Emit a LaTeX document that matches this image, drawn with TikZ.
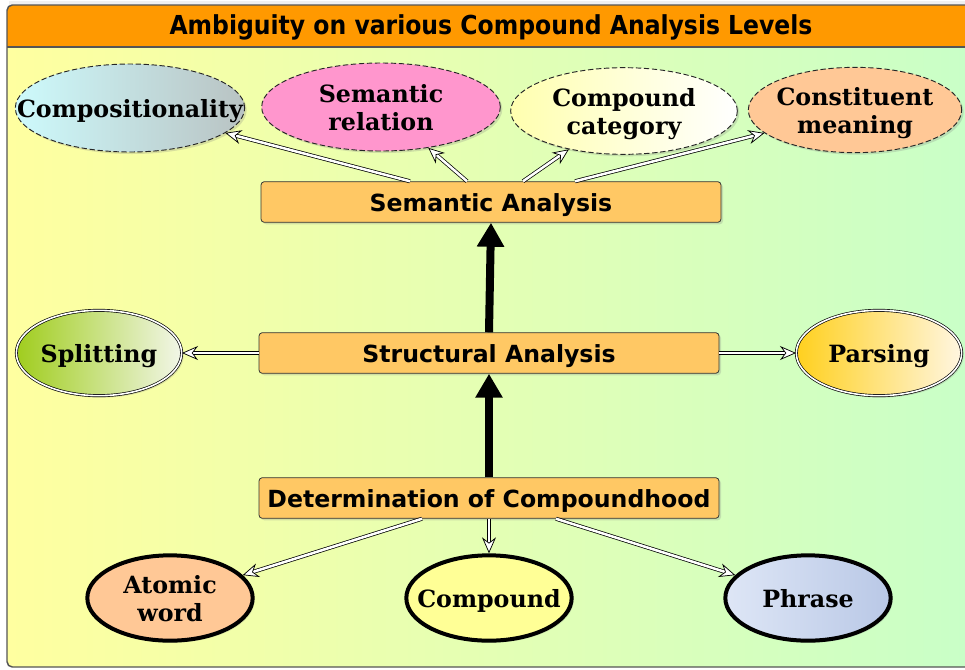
\documentclass[tikz,border=0pt]{standalone}
\usepackage{fontspec}
\setmainfont{DejaVu Serif}
\newfontfamily\boxfont{DejaVu Sans}
\newfontfamily\titlefont{DejaVu Sans Condensed}
\usetikzlibrary{arrows.meta,shapes.geometric,shadows}

\definecolor{framegray}{RGB}{85,85,85}
\definecolor{titleorange}{RGB}{255,153,0}
\definecolor{bgyellow}{RGB}{255,255,160}
\definecolor{bggreen}{RGB}{200,255,200}
\definecolor{boxfill}{RGB}{255,200,100}
\definecolor{pinkfill}{RGB}{255,150,205}
\definecolor{peachfill}{RGB}{255,200,150}
\definecolor{lemonfill}{RGB}{255,255,150}

% centred text that does not widen the surrounding shape
\newcommand\ctext[1]{\makebox[0pt]{\raisebox{-3pt}[\height][\depth]{\renewcommand\arraystretch{1}\begin{tabular}{@{}c@{}}#1\end{tabular}}}}
% box label, set a little lower than the geometric centre
\newcommand\ltext[1]{\raisebox{-2pt}[\height][\depth]{#1}}

\tikzset{
  level/.style={draw=black!80, line width=0.6pt, fill=boxfill, rounded corners=2.5pt,
    minimum width=345pt, minimum height=30.5pt, inner sep=0pt,
    font=\boxfont\bfseries\fontsize{17.7}{21}\selectfont,
    drop shadow={opacity=0.25, shadow xshift=1.5pt, shadow yshift=-1.5pt}},
  oval/.style={ellipse, inner sep=0pt, font=\bfseries\fontsize{17.8}{20.5}\selectfont,
    drop shadow={opacity=0.25, shadow xshift=1.5pt, shadow yshift=-1.5pt}},
  topoval/.style={oval, draw=black!85, dash pattern=on 4pt off 2pt, line width=0.7pt,
    minimum width=#1, minimum height=66pt},
  sideoval/.style={oval, draw=black, double=white, double distance=1.2pt, line width=0.5pt,
    minimum width=124pt, minimum height=64pt},
  lowoval/.style={oval, draw=black, line width=3pt,
    minimum width=124pt, minimum height=64pt},
  hollow/.style={draw=black, line width=0.55pt, double=white, double distance=1.9pt,
    -{Stealth[open, fill=white, length=12pt, width=10.5pt, inset=4pt, line width=0.55pt]}},
  bold arrow/.style={draw=black, line width=6pt,
    -{Triangle[length=18pt, width=19.5pt]}},
}

\begin{document}
\begin{tikzpicture}[x=0.75pt, y=-0.75pt]
  \useasboundingbox (0,0) rectangle (965,669);

  % frame with shaded body and title bar
  \fill[black!6] (9,1) rectangle (980,8);
  \shade[shading=axis, shading angle=-55, left color=bgyellow, right color=bggreen,
         rounded corners=4pt] (7,5) rectangle (985,667);
  \fill[titleorange, rounded corners=4pt] (7,5) rectangle (985,47);
  \fill[titleorange] (7,30) rectangle (985,47);
  \draw[framegray, line width=1.1pt] (7,47) -- (985,47);
  \draw[framegray, line width=1.1pt, rounded corners=4pt] (7,5) rectangle (985,667);
  \node (title) at (491,27) {\titlefont\bfseries\fontsize{19.6}{22}\selectfont Ambiguity on various Compound Analysis Levels};

  % analysis levels
  \node[level] (sem) at (491,202) {\ltext{Semantic Analysis}};
  \node[level] (str) at (489,353) {\ltext{Structural Analysis}};
  \node[level] (det) at (489,498) {\ltext{Determination of Compoundhood}};

  % semantic ambiguities
  \node[topoval=172pt, left color={rgb,255:red,205;green,250;blue,252},
        right color={rgb,255:red,185;green,195;blue,195}] (compo) at (130,108) {\ctext{Compositionality}};
  \node[topoval=179pt, fill=pinkfill] (rel) at (381,107) {\ctext{Semantic\\relation}};
  \node[topoval=170pt, minimum height=65pt, left color={rgb,255:red,255;green,255;blue,175},
        right color=white] (cat) at (624,111) {\ctext{Compound\\category}};
  \node[topoval=160pt, minimum height=64pt, fill=peachfill] (mean) at (855,110) {\ctext{Constituent\\meaning}};

  % structural ambiguities
  \node[sideoval, left color={rgb,255:red,160;green,205;blue,30},
        right color={rgb,255:red,242;green,246;blue,232}] (split) at (99,353) {\ctext{Splitting}};
  \node[sideoval, left color={rgb,255:red,255;green,208;blue,30},
        right color={rgb,255:red,255;green,246;blue,225}] (pars) at (879,353) {\ctext{Parsing}};

  % compoundhood ambiguities
  \node[lowoval, fill=peachfill] (atom) at (170,598) {\ctext{Atomic\\word}};
  \node[lowoval, fill=lemonfill] (cmpd) at (489,598) {\ctext{Compound}};
  \node[lowoval, left color={rgb,255:red,222;green,230;blue,246},
        right color={rgb,255:red,185;green,200;blue,230}] (phr) at (808,598) {\ctext{Phrase}};

  % level to level
  \draw[bold arrow] (str.north) -- (sem.south);
  \draw[bold arrow] (det.north) -- (str.north |- str.south);

  % level to ambiguities
  \draw[hollow] ([xshift=-60.75pt]sem.north) -- (compo);
  \draw[hollow] ([xshift=-18pt]sem.north) -- (rel);
  \draw[hollow] ([xshift=24pt]sem.north) -- (cat);
  \draw[hollow] ([xshift=63pt]sem.north) -- (mean);
  \draw[hollow] (str.west) -- (split);
  \draw[hollow] (str.east) -- (pars);
  \draw[hollow] ([xshift=-50.25pt]det.south) -- (atom);
  \draw[hollow] (det.south) -- (cmpd);
  \draw[hollow] ([xshift=50.25pt]det.south) -- (phr);
\end{tikzpicture}
\end{document}
